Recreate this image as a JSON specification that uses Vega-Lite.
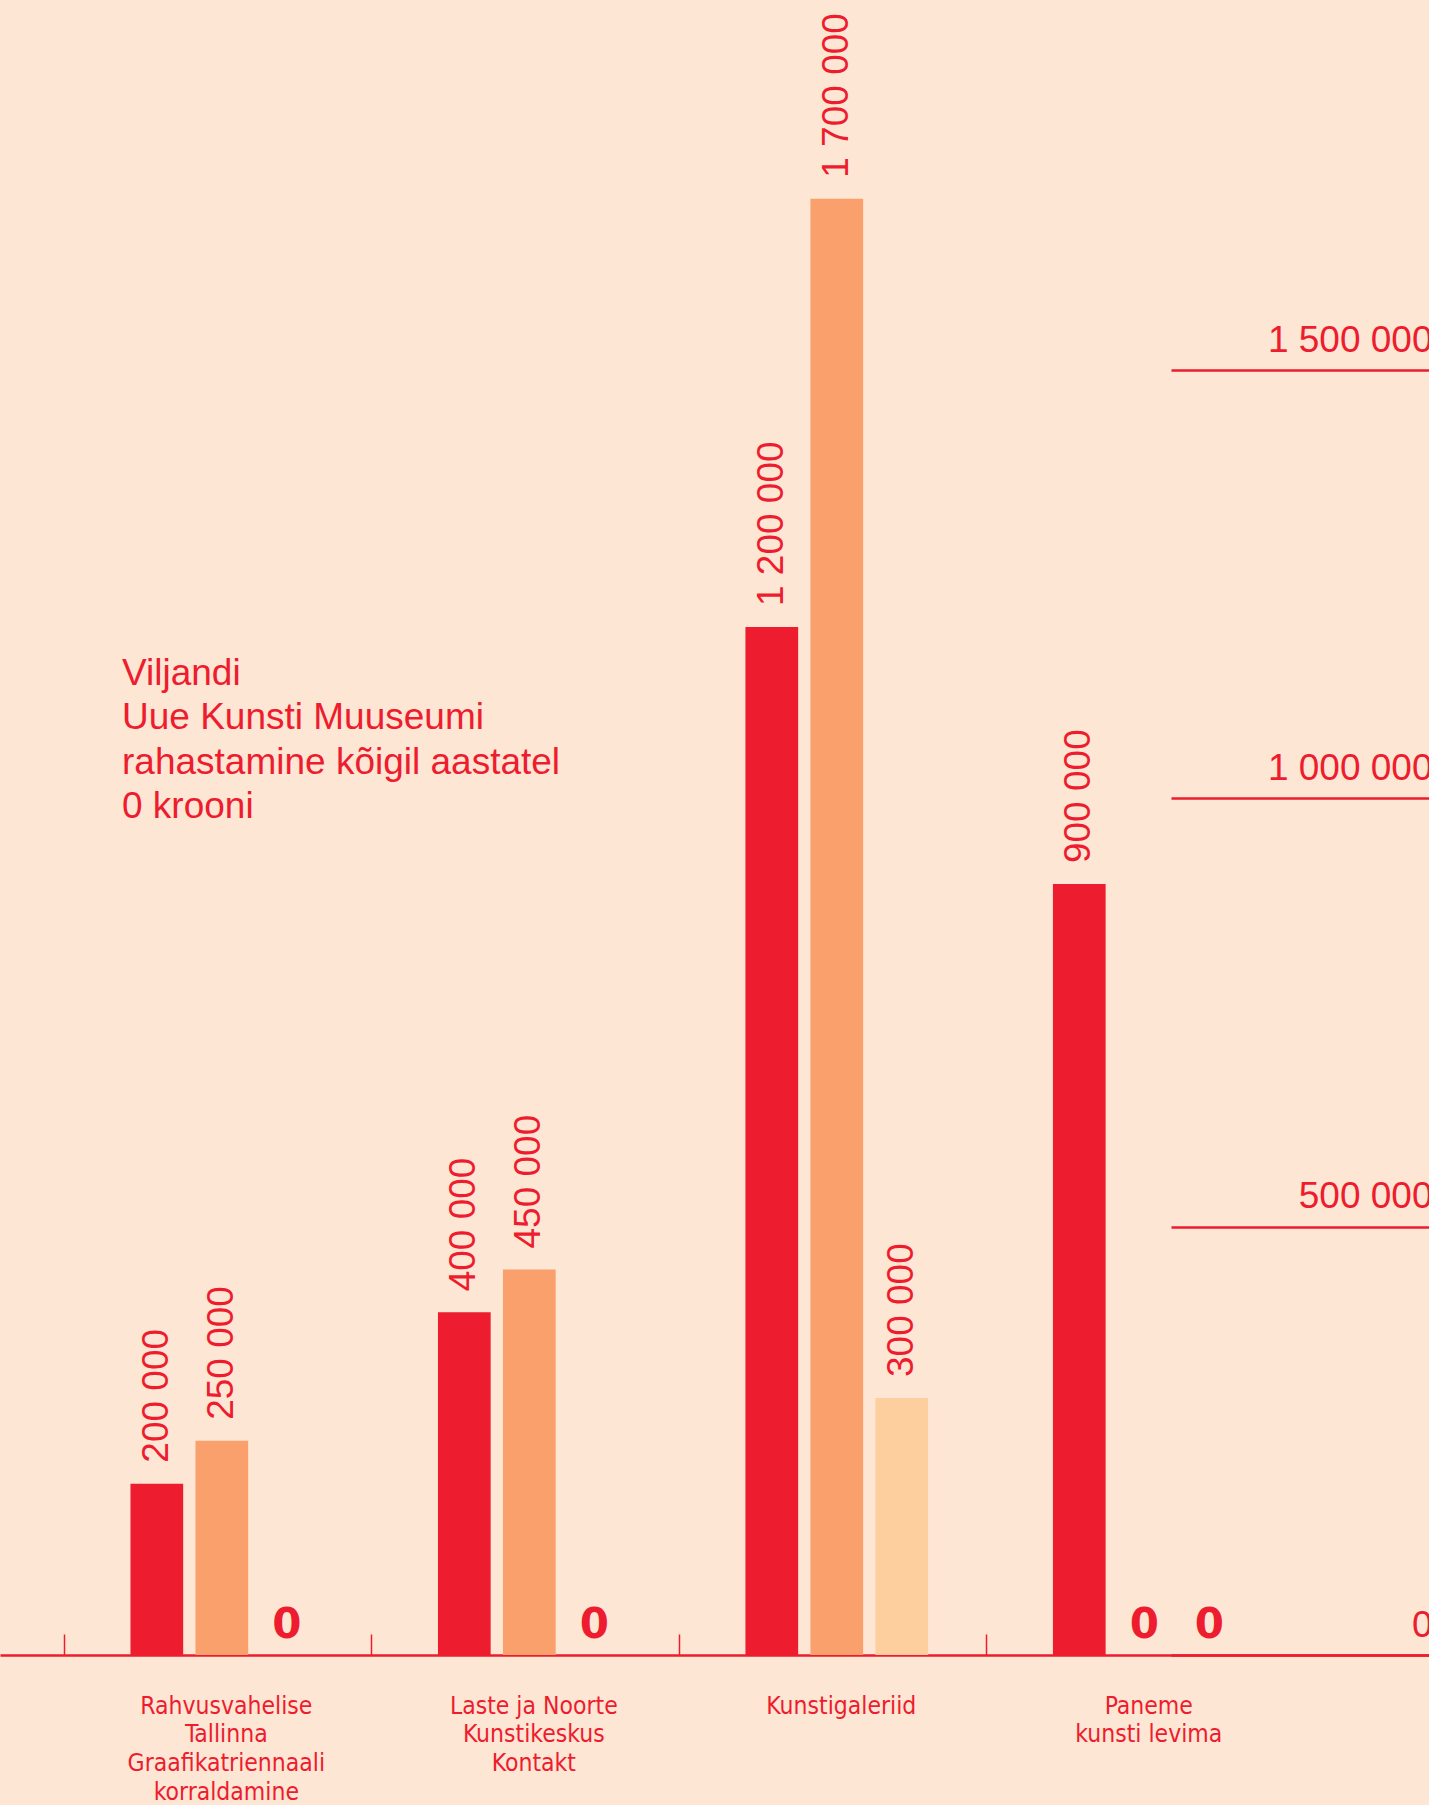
{
  "$schema": "https://vega.github.io/schema/vega-lite/v6.json",
  "autosize": {"type": "none"},
  "padding": {"left": 0, "top": 0, "right": 0, "bottom": 150},
  "width": 1429,
  "height": 1655,
  "background": "#FEE6D4",
  "config": {
    "view": {"stroke": null},
    "locale": {"number": {"decimal": ",", "thousands": " ", "grouping": [3], "currency": ["", ""]}}
  },
  "title": {
    "text": ["Viljandi", "Uue Kunsti Muuseumi", "rahastamine kõigil aastatel", "0 krooni"],
    "anchor": "start",
    "frame": "group",
    "orient": "top",
    "baseline": "alphabetic",
    "offset": 0,
    "dx": 122,
    "dy": 855,
    "font": "Liberation Sans",
    "fontSize": 37,
    "fontWeight": "normal",
    "color": "#ED1C2E",
    "lineHeight": 44.5
  },
  "data": {
    "values": [
      {"projekt": "Rahvusvahelise|Tallinna|Graafikatriennaali|korraldamine", "periood": "I", "summa": 200000},
      {"projekt": "Rahvusvahelise|Tallinna|Graafikatriennaali|korraldamine", "periood": "II", "summa": 250000},
      {"projekt": "Rahvusvahelise|Tallinna|Graafikatriennaali|korraldamine", "periood": "III", "summa": 0},
      {"projekt": "Laste ja Noorte|Kunstikeskus|Kontakt", "periood": "I", "summa": 400000},
      {"projekt": "Laste ja Noorte|Kunstikeskus|Kontakt", "periood": "II", "summa": 450000},
      {"projekt": "Laste ja Noorte|Kunstikeskus|Kontakt", "periood": "III", "summa": 0},
      {"projekt": "Kunstigaleriid", "periood": "I", "summa": 1200000},
      {"projekt": "Kunstigaleriid", "periood": "II", "summa": 1700000},
      {"projekt": "Kunstigaleriid", "periood": "III", "summa": 300000},
      {"projekt": "Paneme|kunsti levima", "periood": "I", "summa": 900000},
      {"projekt": "Paneme|kunsti levima", "periood": "II", "summa": 0},
      {"projekt": "Paneme|kunsti levima", "periood": "III", "summa": 0}
    ]
  },
  "encoding": {
    "x": {
      "field": "projekt",
      "type": "nominal",
      "scale": {
        "domain": ["Rahvusvahelise|Tallinna|Graafikatriennaali|korraldamine", "Laste ja Noorte|Kunstikeskus|Kontakt", "Kunstigaleriid", "Paneme|kunsti levima"],
        "paddingInner": 0,
        "paddingOuter": 0.3237,
        "align": 0.342
      },
      "axis": {
        "title": null,
        "domainColor": "#ED1C2E",
        "domainWidth": 2.5,
        "tickColor": "#ED1C2E",
        "tickSize": -21,
        "tickWidth": 1.5,
        "tickOffset": -158,
        "labelOffset": 162,
        "labelExpr": "split(datum.value, '|')",
        "labelFont": "'Liberation Sans Narrow', 'DejaVu Sans Condensed', 'Arial Narrow', 'Roboto Condensed', 'Liberation Sans', sans-serif",
        "labelFontSize": 24.5,
        "labelLineHeight": 28.8,
        "labelColor": "#ED1C2E",
        "labelAngle": 0,
        "labelAlign": "center",
        "labelBaseline": "top",
        "labelPadding": 60,
        "labelLimit": 0
      }
    },
    "xOffset": {
      "field": "periood",
      "type": "nominal",
      "scale": {"domain": ["I", "II", "III"], "paddingInner": 0.189, "paddingOuter": 0.96}
    },
    "y": {
      "field": "summa",
      "type": "quantitative",
      "scale": {"domain": [0, 1932000], "nice": false},
      "axis": {
        "orient": "right",
        "title": null,
        "values": [0, 500000, 1000000, 1500000],
        "labelExpr": "format(datum.value, ',')",
        "domain": false,
        "grid": false,
        "tickSize": -258,
        "tickWidth": 2.5,
        "tickColor": "#ED1C2E",
        "labelFont": "Liberation Sans",
        "labelFontSize": 37,
        "labelColor": "#ED1C2E",
        "labelAlign": "right",
        "labelBaseline": "alphabetic",
        "labelOffset": -19,
        "labelPadding": 261
      }
    }
  },
  "layer": [
    {
      "mark": {"type": "bar"},
      "encoding": {
        "color": {
          "field": "periood",
          "type": "nominal",
          "scale": {"domain": ["I", "II", "III"], "range": ["#ED1C2E", "#F9A06C", "#FDCF9E"]},
          "legend": null
        }
      }
    },
    {
      "transform": [{"filter": "datum.summa > 0"}],
      "mark": {"type": "text", "angle": 270, "align": "left", "baseline": "middle", "dx": 21, "font": "Liberation Sans", "fontSize": 37, "color": "#ED1C2E"},
      "encoding": {"text": {"field": "summa", "type": "quantitative", "format": ","}}
    },
    {
      "transform": [{"filter": "datum.summa == 0"}],
      "mark": {"type": "text", "align": "center", "baseline": "alphabetic", "dy": -17, "font": "DejaVu Sans", "fontWeight": "bold", "fontSize": 42, "color": "#ED1C2E"},
      "encoding": {"text": {"field": "summa", "type": "quantitative", "format": ","}}
    }
  ]
}
